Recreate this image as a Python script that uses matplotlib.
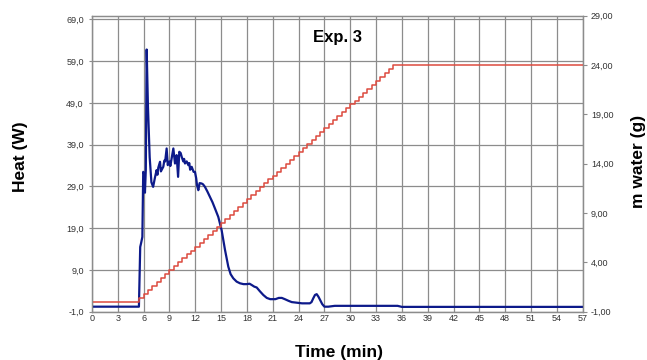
import matplotlib
matplotlib.use("Agg")
import matplotlib.pyplot as plt
from matplotlib.ticker import FuncFormatter

plt.rcParams['font.family'] = ['Liberation Sans', 'DejaVu Sans']

# heat flow (W) vs time (min)
heat_min = [0, 5.45, 5.6, 5.7, 5.85, 5.95, 6.05, 6.15, 6.25, 6.35, 6.5, 6.7, 6.9, 7.1, 7.3,
            7.5, 7.6, 7.7, 7.9, 8.0, 8.1, 8.28, 8.4, 8.5, 8.67, 8.8, 9.0, 9.1, 9.25, 9.45, 9.64,
            9.83, 10.0, 10.14, 10.3, 10.42, 10.6, 10.7, 10.8, 11.0, 11.19, 11.3, 11.4, 11.58,
            11.8, 11.96, 12.1, 12.2, 12.35, 12.5, 12.74, 12.9, 13.12, 13.4, 13.7, 14.0, 14.29,
            14.67, 15.06, 15.45, 15.83, 16.1, 16.41, 16.8, 17.19, 17.6, 17.97, 18.3, 18.55,
            18.85, 19.13, 19.5, 19.9, 20.3, 20.7, 21.3, 21.7, 22.05, 22.4, 22.83, 23.2, 23.6,
            24.4, 25.3, 25.5, 25.7, 25.9, 26.1, 26.3, 26.5, 26.75, 27.0, 27.45, 28.2, 30.0,
            33.0, 35.5, 36.0, 57]
heat_w = [0.2, 0.2, 14.5, 15.4, 16.9, 32.5, 32.1, 27.5, 33.0, 61.8, 48.0, 36.0, 30.0, 28.9, 31.0,
          32.9, 31.8, 33.5, 34.9, 32.6, 33.0, 33.7, 35.2, 35.0, 38.1, 34.1, 35.0, 33.9, 35.7,
          38.1, 34.5, 36.5, 31.3, 37.3, 37.0, 36.1, 35.0, 35.6, 34.5, 35.0, 34.1, 34.6, 33.0,
          33.7, 32.5, 32.5, 31.0, 29.3, 28.1, 29.8, 29.7, 29.5, 28.9, 27.8, 26.5, 25.2, 23.7,
          21.7, 18.5, 13.8, 9.8, 8.0, 7.0, 6.2, 5.8, 5.6, 5.6, 5.7, 5.4,
          5.0, 4.8, 3.9, 3.0, 2.3, 2.0, 2.0, 2.3, 2.3, 2.0, 1.6, 1.3, 1.2,
          1.0, 1.0, 1.3, 2.2, 3.0, 3.2, 2.6, 1.8, 0.8, 0.2, 0.2, 0.4, 0.4,
          0.4, 0.4, 0.15, 0.15]

# dosed water (g), stepwise
water_min = [0, 5.5, 6.0, 6.5, 7.0, 7.5, 8.0, 8.5, 9.0, 9.5, 10.0, 10.5, 11.0, 11.5, 12.0,
             12.5, 13.0, 13.5, 14.0, 14.5, 15.0, 15.5, 16.0, 16.5, 17.0, 17.5, 18.0, 18.5,
             19.0, 19.5, 20.0, 20.5, 21.0, 21.5, 22.0, 22.5, 23.0, 23.5, 24.0, 24.5, 25.0,
             25.5, 26.0, 26.5, 27.0, 27.5, 28.0, 28.5, 29.0, 29.5, 30.0, 30.5, 31.0, 31.5,
             32.0, 32.5, 33.0, 33.5, 34.0, 34.5, 35.0, 57]
water_g = [0,
           0.4, 0.8, 1.2, 1.6, 2.0, 2.4, 2.8, 3.2, 3.6, 4.0,
           4.4, 4.8, 5.2, 5.6, 6.0, 6.4, 6.8, 7.2, 7.6, 8.0,
           8.4, 8.8, 9.2, 9.6, 10.0, 10.4, 10.8, 11.2, 11.6, 12.0,
           12.4, 12.8, 13.2, 13.6, 14.0, 14.4, 14.8, 15.2, 15.6, 16.0,
           16.4, 16.8, 17.2, 17.6, 18.0, 18.4, 18.8, 19.2, 19.6, 20.0,
           20.4, 20.8, 21.2, 21.6, 22.0, 22.4, 22.8, 23.2, 23.6, 24.0,
           24.0]

x_ticks = [0, 3, 6, 9, 12, 15, 18, 21, 24, 27, 30, 33, 36, 39, 42, 45, 48, 51, 54, 57]
heat_ticks = [-1, 9, 19, 29, 39, 49, 59, 69]
water_ticks = [-1, 4, 9, 14, 19, 24, 29]

fig = plt.figure(figsize=(6.47, 3.6), dpi=100)
ax = fig.add_axes([0.1422, 0.1342, 0.7584, 0.8222])
ax2 = ax.twinx()

ax.plot(heat_min, heat_w, color='#0d1a8a', lw=1.6, zorder=3)
ax2.plot(water_min, water_g, color='#dd4a3e', lw=1.1, drawstyle='steps-post')

ax.set_xlim(0, 57)
ax.set_ylim(-1, 69.9)
ax2.set_ylim(-1, 29)
ax.set_xticks(x_ticks)
ax.set_yticks(heat_ticks)
ax2.set_yticks(water_ticks)
ax.yaxis.set_major_formatter(FuncFormatter(lambda v, p: f"{v:.1f}".replace('.', ',')))
ax2.yaxis.set_major_formatter(FuncFormatter(lambda v, p: f"{v:.2f}".replace('.', ',')))

ax.grid(True, color='#8c8c8c', lw=0.9)
ax.set_axisbelow(True)
ax.tick_params(axis='y', length=2, pad=4, labelsize=6.5, colors='#8c8c8c', labelcolor='#333333')
ax.tick_params(axis='x', length=0, pad=2, labelsize=6.5, labelcolor='#333333')
ax2.tick_params(axis='y', length=3, pad=3, labelsize=6.5, colors='#8c8c8c', labelcolor='#333333')
for a in (ax, ax2):
    for s in a.spines.values():
        s.set_color('#8c8c8c')
        s.set_linewidth(0.9)

ax.text(0.501, 0.928, "Exp. 3", transform=ax.transAxes, ha='center', va='center',
        fontsize=12, fontweight='bold')
fig.text(20 / 647, 1 - 157 / 360, "Heat (W)", rotation=90, ha='center', va='center',
         fontsize=12.5, fontweight='bold')
fig.text(638 / 647, 1 - 161 / 360, "m water (g)", rotation=90, ha='center', va='center',
         fontsize=12.5, fontweight='bold')
fig.text(339 / 647, 1 - 352 / 360, "Time (min)", ha='center', va='center',
         fontsize=12.5, fontweight='bold')

fig.savefig("out.png", dpi=100)
